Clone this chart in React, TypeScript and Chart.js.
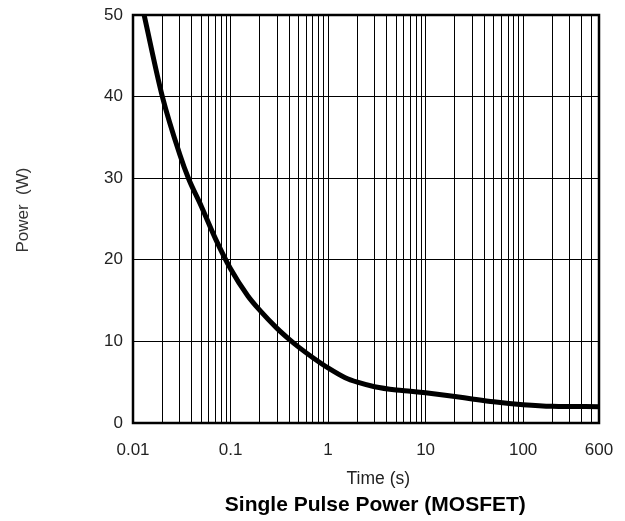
import React, { useEffect, useRef } from "react";
import { Chart, registerables } from "chart.js";

Chart.register(...registerables);

// Data (time in seconds, power in watts)
const TIME_S = [0.013, 0.02, 0.03, 0.037, 0.05, 0.07, 0.1, 0.15, 0.2, 0.3, 0.4, 0.5, 0.7, 1, 1.5, 2, 3, 5, 7, 10, 20, 30, 50, 100, 200, 600];
const POWER_W = [50, 40, 33, 30, 26.6, 22.6, 18.9, 15.6, 13.8, 11.6, 10.25, 9.3, 8.0, 6.75, 5.55, 5.0, 4.45, 4.05, 3.9, 3.7, 3.25, 2.95, 2.6, 2.25, 2.05, 2.0];

const X_LABELED_TICKS = [0.01, 0.1, 1, 10, 100, 600];
const X_DECADES = [0.01, 0.1, 1, 10, 100];
const X_MULTIPLIERS = [1, 2, 3, 4, 5, 6, 7, 8, 9];
const X_MIN = 0.01;
const X_MAX = 600;
const Y_TICKS = [0, 10, 20, 30, 40, 50];

const TITLE = "Single Pulse Power (MOSFET)";
const X_TITLE = "Time (s)";
const Y_TITLE = "Power  (W)";

const FONT = "'Liberation Sans', Arial, Helvetica, sans-serif";

const frame = {
  id: "frame",
  afterDatasetsDraw(chart: any) {
    const { ctx, chartArea } = chart;
    ctx.save();
    ctx.strokeStyle = "#000";
    ctx.lineWidth = 2.5;
    ctx.strokeRect(chartArea.left, chartArea.top, chartArea.right - chartArea.left, chartArea.bottom - chartArea.top);
    ctx.restore();
  },
};

// Axis captions and chart title, placed relative to the plot area
const captions = {
  id: "captions",
  afterDraw(chart: any) {
    const { ctx, chartArea } = chart;
    const midX = chartArea.left + (chartArea.right - chartArea.left) * 0.52;
    ctx.save();
    ctx.textAlign = "center";
    ctx.textBaseline = "middle";
    ctx.fillStyle = "#222";
    ctx.font = `17.5px ${FONT}`;
    ctx.fillText(X_TITLE, midX + 3, chartArea.bottom + 56);
    ctx.fillStyle = "#000";
    ctx.font = `bold 21px ${FONT}`;
    ctx.fillText(TITLE, midX, chartArea.bottom + 82.5);
    ctx.fillStyle = "#333";
    ctx.font = `17px ${FONT}`;
    ctx.translate(23, chartArea.top + (chartArea.bottom - chartArea.top) * 0.478);
    ctx.rotate(-Math.PI / 2);
    ctx.fillText(Y_TITLE, 0, 0);
    ctx.restore();
  },
};

export default function App() {
  const ref = useRef<HTMLCanvasElement | null>(null);

  useEffect(() => {
    if (!ref.current) return;
    const gridValues: number[] = [];
    X_DECADES.forEach((d) => X_MULTIPLIERS.forEach((m) => {
      const v = d * m;
      if (v <= X_MAX) gridValues.push(v);
    }));

    const chart = new Chart(ref.current, {
      type: "line",
      data: {
        datasets: [
          {
            data: TIME_S.map((t, i) => ({ x: t, y: POWER_W[i] })),
            borderColor: "#000",
            borderWidth: 5,
            pointRadius: 0,
            fill: false,
            cubicInterpolationMode: "monotone",
          },
        ],
      },
      options: {
        responsive: false,
        animation: false,
        devicePixelRatio: 1,
        layout: { padding: { top: 15, right: 26, bottom: 0, left: 0 } },
        plugins: {
          legend: { display: false },
          tooltip: { enabled: false },
          title: { display: false },
        },
        scales: {
          x: {
            type: "logarithmic",
            min: X_MIN,
            max: X_MAX,
            afterBuildTicks: (scale: any) => {
              scale.ticks = gridValues.map((v) => ({ value: v }));
            },
            afterFit: (scale: any) => {
              scale.height = 98;
              scale.paddingLeft = 0;
              scale.paddingRight = 0;
            },
            grid: { color: "#000", lineWidth: 1, drawTicks: false, tickLength: 0 },
            border: { display: false },
            ticks: {
              autoSkip: false,
              maxRotation: 0,
              padding: 17.5,
              color: "#222",
              font: { family: FONT, size: 17 },
              callback: (value: any) => (X_LABELED_TICKS.includes(Number(value)) ? String(value) : ""),
            },
          },
          y: {
            type: "linear",
            min: 0,
            max: 50,
            afterBuildTicks: (scale: any) => {
              scale.ticks = Y_TICKS.map((v) => ({ value: v }));
            },
            afterFit: (scale: any) => {
              scale.width = 133;
              scale.paddingTop = 0;
              scale.paddingBottom = 0;
            },
            grid: { color: "#000", lineWidth: 1, drawTicks: false, tickLength: 0 },
            border: { display: false },
            ticks: {
              padding: 10,
              color: "#222",
              font: { family: FONT, size: 17 },
            },
          },
        },
      },
      plugins: [frame, captions],
    } as any);
    return () => chart.destroy();
  }, []);

  return (
    <div style={{ position: "fixed", left: 0, top: 0, width: 625, height: 521, background: "#fff" }}>
      <canvas ref={ref} width={625} height={521} style={{ width: 625, height: 521, display: "block" }} />
    </div>
  );
}
